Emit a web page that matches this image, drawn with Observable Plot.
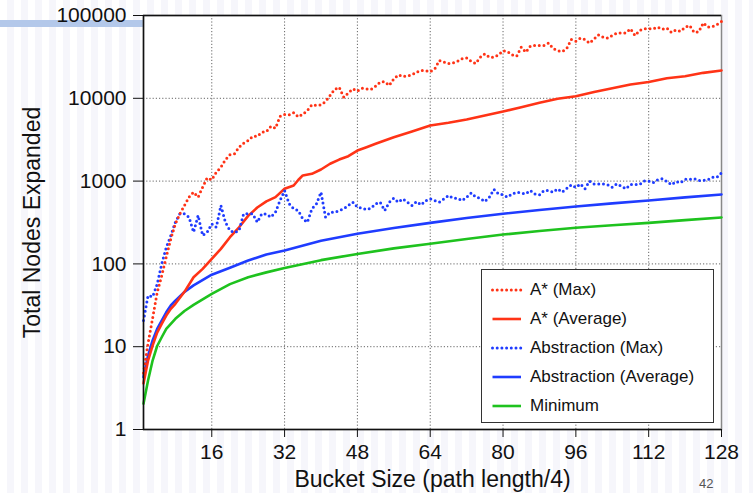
<!DOCTYPE html>
<html>
<head>
<meta charset="utf-8">
<script src="https://cdn.jsdelivr.net/npm/d3@7"></script>
<script src="https://cdn.jsdelivr.net/npm/@observablehq/plot@0.6"></script>
<style>
  html, body { margin: 0; padding: 0; }
  body {
    width: 753px; height: 493px; overflow: hidden;
    background: repeating-linear-gradient(90deg, #ffffff 0px, #ffffff 7px, #f6f6fb 7px, #f6f6fb 14px);
    font-family: "Liberation Sans", Arial, Helvetica, sans-serif;
  }
  #wrap { position: relative; width: 753px; height: 493px; }
  #bar { position: absolute; left: 0; top: 20px; width: 143px; height: 7px; background: #b3c8ea; }
  #chart { position: absolute; left: 0; top: 0; }
  #legend {
    position: absolute; left: 481px; top: 269px; width: 231px; height: 152px;
    border: 1px solid #333; background: #fff;
  }
  .row { position: absolute; left: 0; height: 20px; font-size: 17px; line-height: 20px; color: #111; white-space: nowrap; }
  .row svg { position: absolute; left: 9px; top: 6px; }
  .row span { position: absolute; left: 48px; top: 0; }
  #page { position: absolute; left: 699px; top: 476px; font-size: 13px; color: #555; }
</style>
</head>
<body>
<div id="wrap">
  <div id="bar"></div>
  <div id="chart"></div>
  <div id="legend"></div>
  <div id="page">42</div>
</div>
<script>
// ---- data ----
const buckets = d3.range(1, 129);
const xTicks = [16, 32, 48, 64, 80, 96, 112, 128];
const yTicks = [1, 10, 100, 1000, 10000, 100000];

const aStarMax = [
  4.8, 11, 22, 45, 72, 121, 201, 305, 403, 507,
  640, 735, 640, 843, 1096, 1035, 1280, 1470, 1810, 2080,
  2140, 2570, 2870, 3090, 3480, 3480, 3900, 3950, 4600, 4350,
  6030, 6370, 6300, 6690, 5960, 6420, 7130, 8340, 8200, 8340,
  9140, 10800, 12800, 13600, 10300, 11600, 13000, 12200, 13200, 13000,
  12800, 14000, 15700, 15900, 14300, 17200, 19200, 18300, 18700, 19200,
  20700, 21700, 21500, 21000, 22700, 28600, 27400, 26300, 26800, 28000,
  30000, 30800, 28000, 26300, 31300, 34400, 31300, 31300, 33500, 37500,
  36700, 33500, 32300, 41400, 36000, 42700, 43500, 43500, 43500, 46400,
  39900, 37500, 36700, 40000, 51300, 49000, 53200, 51300, 46400, 52000,
  58400, 54800, 53200, 57300, 61100, 61500, 61500, 69000, 57300, 66000,
  69000, 69000, 69000, 72300, 68000, 70500, 62400, 67000, 64500, 72300,
  75700, 62400, 63500, 81500, 72300, 73500, 77800, 84700
];

const absMax = [
  20.7, 41.5, 40, 57, 100, 158, 220, 319, 403, 403,
  366, 242, 385, 220, 242, 305, 277, 507, 319, 253,
  240, 253, 403, 403, 403, 319, 403, 400, 366, 421,
  584, 767, 532, 462, 441, 351, 319, 462, 532, 735,
  366, 421, 420, 441, 462, 507, 556, 484, 471, 451,
  471, 532, 556, 441, 556, 622, 556, 610, 556, 507,
  565, 515, 580, 610, 580, 556, 610, 670, 622, 622,
  580, 640, 720, 640, 622, 565, 640, 795, 700, 683,
  640, 700, 735, 720, 700, 771, 700, 683, 771, 771,
  735, 807, 735, 815, 902, 840, 925, 807, 1000, 925,
  925, 925, 902, 840, 925, 870, 807, 910, 910, 910,
  1000, 1000, 955, 1040, 1070, 990, 902, 990, 955, 1050,
  1050, 1070, 1020, 1020, 1040, 1115, 1115, 1260
];

const aStarAvgX = [1, 2, 3, 4, 5, 6, 7, 8, 10, 12, 14, 16, 18, 20, 22, 24, 26, 28, 30, 32, 34, 35, 36, 38, 40, 42, 44, 46, 48, 50, 52, 56, 60, 64, 68, 72, 76, 80, 84, 88, 92, 96, 100, 104, 108, 112, 116, 120, 124, 128];
const aStarAvg = [3.6, 6.8, 10.3, 14.8, 18.9, 23.8, 28.7, 33, 46, 69, 87, 115, 152, 210, 277, 380, 480, 570, 640, 810, 885, 1030, 1170, 1225, 1380, 1620, 1820, 2000, 2340, 2570, 2820, 3390, 3970, 4690, 5060, 5540, 6190, 6930, 7800, 8830, 9860, 10600, 11900, 13200, 14700, 15700, 17500, 18500, 20300, 21700];

const smoothX = [1, 2, 3, 4, 5, 6, 7, 8, 10, 12, 16, 20, 24, 28, 32, 40, 48, 56, 64, 72, 80, 88, 96, 104, 112, 120, 128];
const absAvg = [4.3, 7.8, 11.9, 16.4, 20.7, 26, 31.5, 36, 46, 55, 74, 90, 110, 130, 145, 190, 231, 272, 313, 358, 403, 448, 493, 538, 584, 636, 689];
const minimum = [2.05, 3.9, 6.8, 10.2, 13, 16.4, 18.9, 21.7, 27, 32, 43.5, 57, 69, 79, 89, 111, 132, 154, 175, 200, 226, 250, 273, 293, 313, 338, 363];

const colors = { red: "#ff3316", blue: "#1f3cff", green: "#1ec21e" };
const seriesNames = ["A* (Max)", "A* (Average)", "Abstraction (Max)", "Abstraction (Average)", "Minimum"];

const dotted = { strokeWidth: 3, strokeDasharray: "0 4.7", strokeLinecap: "round" };
const solid = { strokeWidth: 2.6, strokeLinejoin: "round" };

const chart = Plot.plot({
  width: 753,
  height: 493,
  marginLeft: 143,
  marginRight: 32,
  marginTop: 15,
  marginBottom: 64,
  style: { fontFamily: "'Liberation Sans', Arial, Helvetica, sans-serif", background: "transparent", color: "#111", overflow: "visible" },
  x: { domain: [1, 128] },
  y: { type: "log", domain: [1, 100000] },
  marks: [
    Plot.frame({ fill: "white", stroke: "#888", strokeWidth: 1.5 }),
    Plot.ruleX(xTicks.slice(0, -1), { stroke: "#666", strokeDasharray: "1.2,2" }),
    Plot.ruleY(yTicks.slice(1, -1), { stroke: "#666", strokeDasharray: "1.2,2" }),
    Plot.line(minimum, { x: (d, i) => smoothX[i], y: d => d, stroke: colors.green, ...solid }),
    Plot.line(absAvg, { x: (d, i) => smoothX[i], y: d => d, stroke: colors.blue, ...solid }),
    Plot.line(aStarAvg, { x: (d, i) => aStarAvgX[i], y: d => d, stroke: colors.red, ...solid }),
    Plot.line(absMax, { x: (d, i) => buckets[i], y: d => d, stroke: colors.blue, ...dotted }),
    Plot.line(aStarMax, { x: (d, i) => buckets[i], y: d => d, stroke: colors.red, ...dotted }),
    Plot.ruleY([100000], { stroke: "#111", strokeWidth: 1.5 }),
    Plot.ruleY([1], { stroke: "#111", strokeWidth: 1.5 }),
    Plot.ruleX([1], { stroke: "#111", strokeWidth: 1.5 }),
    Plot.axisX({ ticks: xTicks, tickSize: 8, tickPadding: 7, fontSize: 21, label: null, stroke: "#111" }),
    Plot.axisY({ ticks: yTicks, tickFormat: d => String(d), tickSize: 10, tickPadding: 7, fontSize: 21, label: null, stroke: "#111" }),
    Plot.text(["Bucket Size (path length/4)"], { frameAnchor: "bottom", lineAnchor: "middle", textAnchor: "middle", dy: 50, fontSize: 23, fill: "#111" }),
    Plot.text(["Total Nodes Expanded"], { frameAnchor: "left", lineAnchor: "middle", textAnchor: "middle", dx: -111, rotate: -90, fontSize: 23, fill: "#111" })
  ]
});
document.getElementById("chart").appendChild(chart);

// legend (HTML)
const legend = document.getElementById("legend");
const legendStyles = [
  { color: colors.red, dash: true },
  { color: colors.red, dash: false },
  { color: colors.blue, dash: true },
  { color: colors.blue, dash: false },
  { color: colors.green, dash: false }
];
seriesNames.forEach((name, i) => {
  const row = document.createElement("div");
  row.className = "row";
  row.style.top = (10 + i * 29) + "px";
  row.style.width = "100%";
  const s = legendStyles[i];
  const dash = s.dash ? 'stroke-dasharray="0 4.7" stroke-linecap="round" stroke-width="3"' : 'stroke-width="2.6"';
  row.innerHTML = `<svg width="32" height="8"><line x1="1.5" y1="4" x2="30" y2="4" stroke="${s.color}" ${dash}/></svg><span>${name}</span>`;
  legend.appendChild(row);
});
</script>
</body>
</html>
